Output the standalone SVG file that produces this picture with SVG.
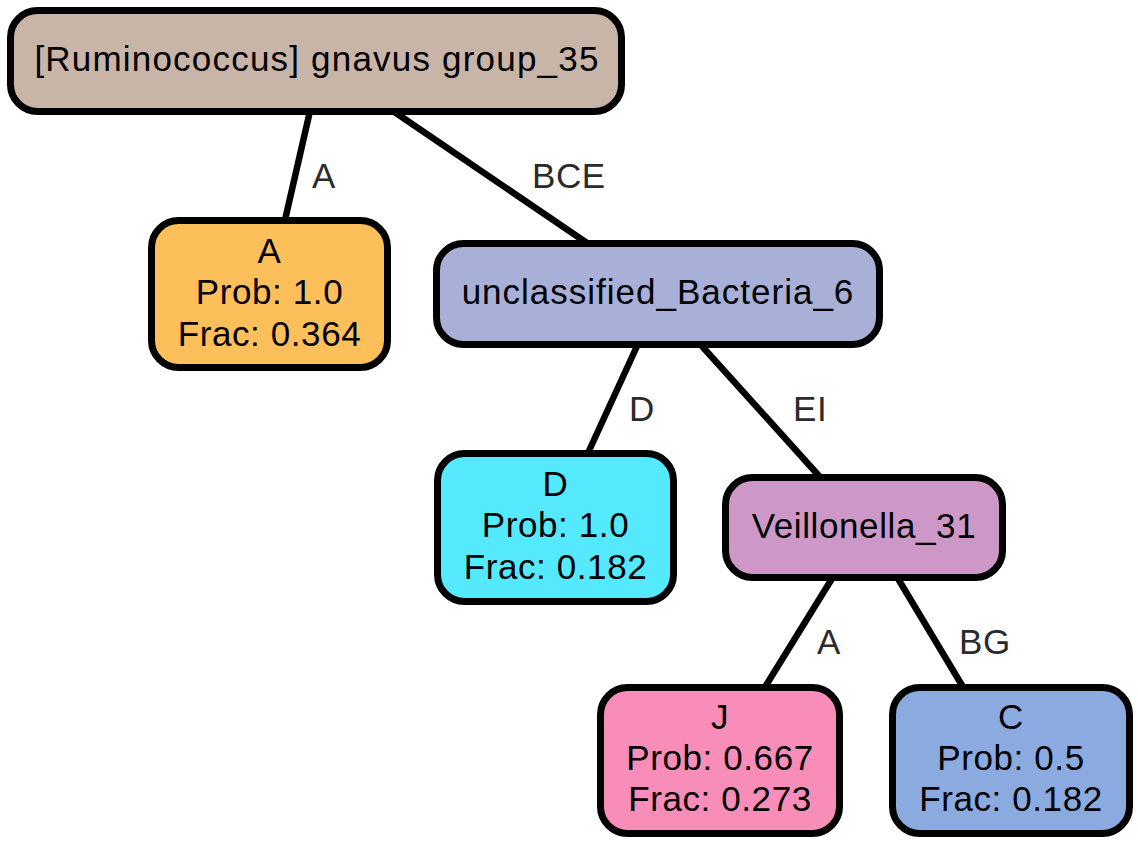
<svg xmlns="http://www.w3.org/2000/svg" width="1138" height="846" viewBox="0 0 1138 846">
<style>
.node rect{stroke:#000;stroke-width:7}
.node text{font-family:"Liberation Sans",Arial,sans-serif;font-size:35px;letter-spacing:0.6px;fill:#000;text-anchor:middle}
.edges line{stroke:#000;stroke-width:6.5}
.edges text{font-family:"Liberation Sans",Arial,sans-serif;font-size:35px;letter-spacing:0.6px;fill:#2b2b2b}
</style>
<rect width="1138" height="846" fill="#fff"/>
<g id="connectors" class="edges">
<line x1="310" y1="111" x2="285" y2="220"/>
<line x1="393" y1="111" x2="587" y2="243"/>
<line x1="638" y1="344" x2="588" y2="453"/>
<line x1="700" y1="344" x2="820" y2="477"/>
<line x1="833" y1="577" x2="765" y2="687"/>
<line x1="897" y1="577" x2="963" y2="687"/>
<text x="312" y="188">A</text>
<text x="532" y="188">BCE</text>
<text x="629" y="421">D</text>
<text x="793" y="421">EI</text>
<text x="817" y="654">A</text>
<text x="959" y="654">BG</text>
</g>
<g id="root" class="node"><rect x="10.5" y="10.5" width="611" height="101" rx="27" fill="#C9B5A8"/><text x="317" y="71" style="letter-spacing:1.2px">[Ruminococcus] gnavus group_35</text></g>
<g id="nA" class="node"><rect x="151.5" y="220.5" width="236" height="147" rx="27" fill="#FDBF5A"/><text x="269.5" y="263">A</text><text x="269.5" y="304">Prob: 1.0</text><text x="269.5" y="346">Frac: 0.364</text></g>
<g id="unc" class="node"><rect x="436.5" y="243.5" width="443" height="101" rx="27" fill="#A9B0D8"/><text x="658" y="304" style="letter-spacing:1px">unclassified_Bacteria_6</text></g>
<g id="nD" class="node"><rect x="437.5" y="453.5" width="236" height="148" rx="27" fill="#55E9FD"/><text x="555.5" y="496">D</text><text x="555.5" y="537">Prob: 1.0</text><text x="555.5" y="579">Frac: 0.182</text></g>
<g id="veil" class="node"><rect x="725.5" y="477.5" width="277" height="100" rx="27" fill="#CD98C8"/><text x="864" y="538">Veillonella_31</text></g>
<g id="nJ" class="node"><rect x="600.5" y="687.5" width="239" height="146" rx="27" fill="#F78DB8"/><text x="720" y="729">J</text><text x="720" y="770">Prob: 0.667</text><text x="720" y="811">Frac: 0.273</text></g>
<g id="nC" class="node"><rect x="892.5" y="687.5" width="237" height="146" rx="27" fill="#8BAADF"/><text x="1011" y="729">C</text><text x="1011" y="770">Prob: 0.5</text><text x="1011" y="811">Frac: 0.182</text></g>
</svg>
